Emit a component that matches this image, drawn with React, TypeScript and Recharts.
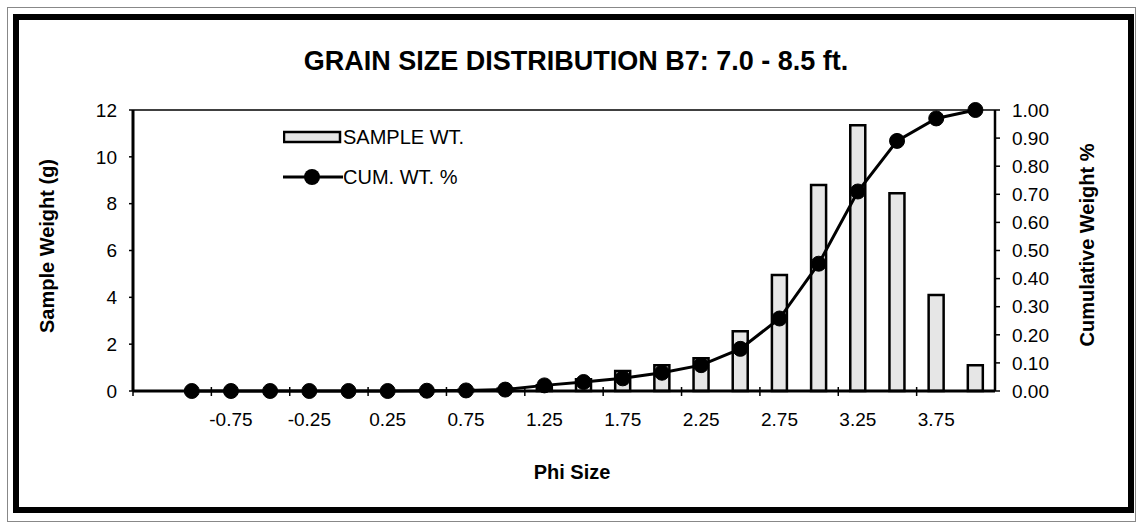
import { Bar, ComposedChart, Legend, Line, ReferenceLine, XAxis, YAxis } from 'recharts';

const PHI_SIZE = ['', '-1.00', '-0.75', '-0.50', '-0.25', '0.00', '0.25', '0.50', '0.75', '1.00', '1.25', '1.50', '1.75', '2.00', '2.25', '2.50', '2.75', '3.00', '3.25', '3.50', '3.75', '4.00'];
const SAMPLE_WT = [null, 0, 0, 0, 0, 0, 0, 0.02, 0.05, 0.1, 0.25, 0.5, 0.85, 1.1, 1.4, 2.55, 4.95, 8.8, 11.35, 8.45, 4.1, 1.1];
const CUM_WT = [null, 0, 0, 0, 0, 0, 0, 0.001, 0.002, 0.005, 0.02, 0.032, 0.045, 0.065, 0.092, 0.15, 0.258, 0.453, 0.71, 0.89, 0.97, 1.0];
const LEFT_TICKS = [0, 2, 4, 6, 8, 10, 12];
const RIGHT_TICKS = [0, 0.1, 0.2, 0.3, 0.4, 0.5, 0.6, 0.7, 0.8, 0.9, 1.0];

const FONT = '"Liberation Sans", Arial, Helvetica, sans-serif';
const BAR_FILL = '#e6e6e6';

const data = PHI_SIZE.map((phi, i) => ({ phi, sampleWt: SAMPLE_WT[i], cumWt: CUM_WT[i] }));

// x labels on every second category, tick marks on the category edges
function PhiTick(props: any) {
  const { x, y, index, payload } = props;
  const half = payload?.offset ?? 0;
  const even = index % 2 === 0;
  return (
    <g>
      {even && <line x1={x - half} x2={x - half} y1={y - 4} y2={y + 5} stroke="#000" strokeWidth={1.5} />}
      {even && index > 0 && (
        <text x={x} y={y + 35} textAnchor="middle" fontSize={19} fontFamily={FONT} fill="#000">
          {payload.value}
        </text>
      )}
    </g>
  );
}

function LegendBox() {
  const row = { display: 'flex', alignItems: 'center', height: 24, fontFamily: FONT, fontSize: 20, color: '#000', whiteSpace: 'nowrap' } as const;
  return (
    <div>
      <div style={row}>
        <svg width={60} height={24}>
          <rect x={1} y={7} width={56} height={10} fill={BAR_FILL} stroke="#000" strokeWidth={2.5} />
        </svg>
        <span>SAMPLE WT.</span>
      </div>
      <div style={{ ...row, marginTop: 16 }}>
        <svg width={60} height={24}>
          <line x1={0} x2={60} y1={12} y2={12} stroke="#000" strokeWidth={3} />
          <circle cx={29} cy={12} r={8} fill="#000" />
        </svg>
        <span>CUM. WT. %</span>
      </div>
    </div>
  );
}

export default function App() {
  return (
    <div style={{ position: 'absolute', left: 0, top: 0, width: 1136, height: 527, background: '#fff', fontFamily: FONT }}>
      <div style={{ position: 'absolute', left: 7, top: 7, width: 1129, height: 515, border: '1px solid #888', boxSizing: 'border-box' }} />
      <div style={{ position: 'absolute', left: 13, top: 14, width: 1121, height: 499, border: '6px solid #000', boxSizing: 'border-box' }} />

      <div style={{ position: 'absolute', left: 0, top: 0 }}>
        <ComposedChart
          width={1136}
          height={527}
          data={data}
          margin={{ top: 110, right: 71, bottom: 96, left: 83 }}
        >
          <XAxis
            dataKey="phi"
            interval={0}
            tick={<PhiTick />}
            tickLine={false}
            tickSize={0}
            tickMargin={0}
            height={40}
            axisLine={{ stroke: '#000', strokeWidth: 3 }}
          />
          <YAxis
            yAxisId="left"
            domain={[0, 12]}
            ticks={LEFT_TICKS}
            width={50}
            tickSize={4}
            tickMargin={12}
            tick={{ fontSize: 19, fill: '#000', fontFamily: FONT }}
            tickLine={{ stroke: '#000', strokeWidth: 1.5 }}
            axisLine={{ stroke: '#000', strokeWidth: 3 }}
          />
          <YAxis
            yAxisId="right"
            orientation="right"
            domain={[0, 1]}
            ticks={RIGHT_TICKS}
            width={70}
            tickSize={5}
            tickMargin={12}
            tickFormatter={(v: number) => v.toFixed(2)}
            tick={{ fontSize: 19, fill: '#000', fontFamily: FONT }}
            tickLine={{ stroke: '#000', strokeWidth: 1.5 }}
            axisLine={{ stroke: '#000', strokeWidth: 2.5 }}
          />
          <ReferenceLine yAxisId="left" y={12} stroke="#000" strokeWidth={1.5} />
          <Legend
            layout="horizontal"
            verticalAlign="middle"
            align="center"
            content={<LegendBox />}
            wrapperStyle={{ position: 'absolute', left: 283, top: 125, width: 240 }}
          />
          <Bar
            yAxisId="left"
            dataKey="sampleWt"
            name="SAMPLE WT."
            fill={BAR_FILL}
            stroke="#000"
            strokeWidth={2.5}
            barSize={15}
            isAnimationActive={false}
          />
          <Line
            yAxisId="right"
            type="linear"
            dataKey="cumWt"
            name="CUM. WT. %"
            stroke="#000"
            strokeWidth={3}
            dot={{ r: 7.5, fill: '#000', stroke: '#000', strokeWidth: 1 }}
            isAnimationActive={false}
          />
        </ComposedChart>
      </div>

      <svg width={1136} height={527} style={{ position: 'absolute', left: 0, top: 0, pointerEvents: 'none' }}>
        <text x={576} y={70} textAnchor="middle" fontSize={27} fontWeight="bold" fontFamily={FONT}>
          GRAIN SIZE DISTRIBUTION B7: 7.0 - 8.5 ft.
        </text>
        <text x={0} y={0} transform="translate(54,246) rotate(-90)" textAnchor="middle" fontSize={20} fontWeight="bold" fontFamily={FONT}>
          Sample Weight (g)
        </text>
        <text x={0} y={0} transform="translate(1094,245) rotate(-90)" textAnchor="middle" fontSize={20} fontWeight="bold" fontFamily={FONT}>
          Cumulative Weight %
        </text>
        <text x={572} y={479} textAnchor="middle" fontSize={20} fontWeight="bold" fontFamily={FONT}>
          Phi Size
        </text>
      </svg>
    </div>
  );
}
